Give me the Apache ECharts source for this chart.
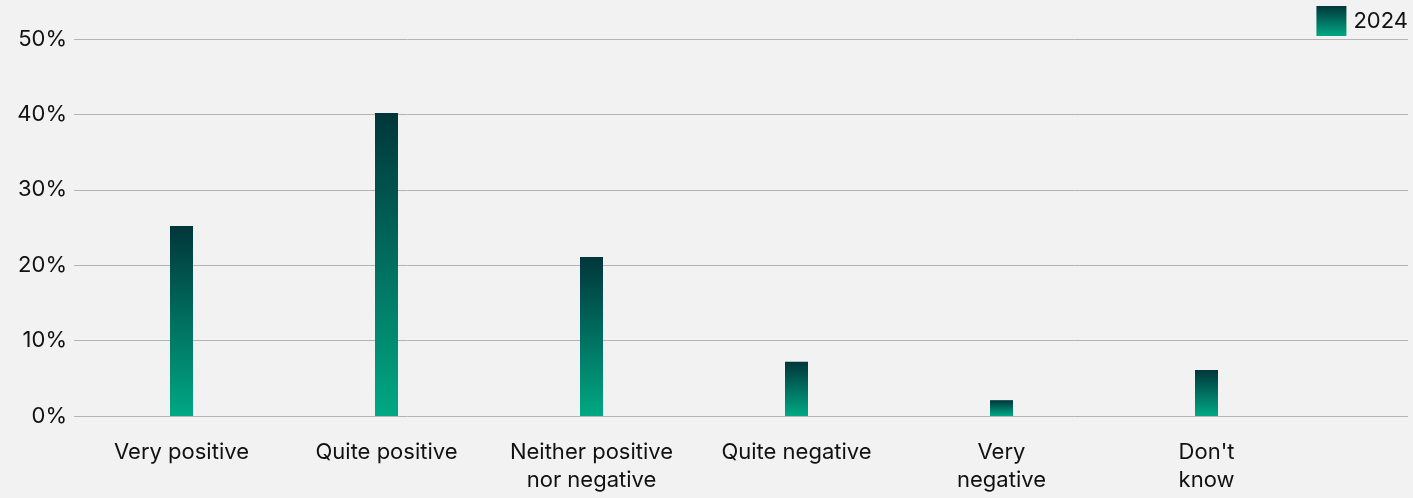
<!DOCTYPE html>
<html><head><meta charset="utf-8">
<script src="https://cdn.jsdelivr.net/npm/echarts@6/dist/echarts.min.js"></script>
<style>html,body{margin:0;padding:0;background:#f2f2f2}#c{width:1413px;height:498px}</style>
</head><body><div id="c"></div>
<script>
const categories = ["Very positive", "Quite positive", "Neither positive\nnor negative", "Quite negative", "Very\nnegative", "Don't\nknow"];
const values2024 = [25.2, 40.2, 21.1, 7.2, 2.1, 6.1];
const seriesName = "2024";
const yTicks = [0, 10, 20, 30, 40, 50];

const grad = new echarts.graphic.LinearGradient(0, 0, 0, 1, [
  {offset: 0, color: '#00363a'},
  {offset: 1, color: '#00a884'}
]);
const font = 'Inter, "Noto Sans", sans-serif';
const chart = echarts.init(document.getElementById('c'), null, {renderer: 'canvas'});
chart.setOption({
  backgroundColor: '#f2f2f2',
  animation: false,
  legend: {
    data: [{name: seriesName, icon: 'rect'}], right: 5, top: 6, padding: 0,
    itemWidth: 30, itemHeight: 30, itemGap: 8,
    textStyle: {fontFamily: font, fontSize: 22, color: '#111', padding: [0, 0, 0, 2]}
  },
  grid: [
    {left: 74, right: 5, top: 39, height: 377, containLabel: false},
    {left: 79, width: 1230, top: 39, height: 377, containLabel: false}
  ],
  xAxis: [
    {gridIndex: 0, type: 'value', min: 0, max: 1, show: false},
    {gridIndex: 1, type: 'category', data: categories,
     axisLine: {show: false}, axisTick: {show: false},
     axisLabel: {fontFamily: font, fontSize: 22, color: '#111', margin: 22, lineHeight: 28, interval: 0}}
  ],
  yAxis: [
    {gridIndex: 0, type: 'value', min: 0, max: 50, interval: 10,
     axisLine: {show: false}, axisTick: {show: false},
     splitLine: {lineStyle: {color: '#b4b4b4', width: 1}},
     axisLabel: {fontFamily: font, fontSize: 22, color: '#111', margin: 7, formatter: v => v + '%'}},
    {gridIndex: 1, type: 'value', min: 0, max: 50, interval: 10, show: false, splitLine: {show: false}}
  ],
  series: [{
    name: seriesName, type: 'bar', xAxisIndex: 1, yAxisIndex: 1,
    data: values2024, barWidth: 23, itemStyle: {color: grad}
  }]
});
</script></body></html>
